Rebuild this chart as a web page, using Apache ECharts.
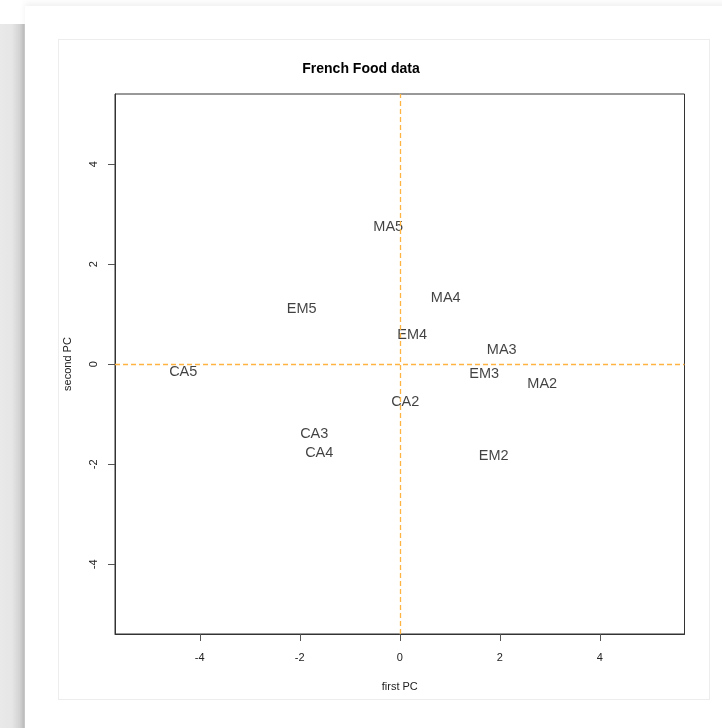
<!DOCTYPE html>
<html>
<head>
<meta charset="utf-8">
<script src="https://cdn.jsdelivr.net/npm/echarts@6/dist/echarts.min.js"></script>
<style>
html,body{margin:0;padding:0;width:722px;height:728px;overflow:hidden;background:#fff;}
#band{position:absolute;left:0;top:24px;width:25px;height:704px;
 background:linear-gradient(to right,#e9e9e9 0px,#e6e6e6 12px,#d2d2d2 20px,#bfbfbf 24px,#d8d8d8 25px);}
#card{position:absolute;left:25px;top:6px;width:720px;height:740px;background:#fff;
 box-shadow:0 -3px 6px rgba(0,0,0,0.06);}
#inner{position:absolute;left:58px;top:39px;width:652px;height:661px;border:1px solid #ededed;box-sizing:border-box;}
#chart{position:absolute;left:0;top:0;width:722px;height:728px;}
</style>
</head>
<body>
<div id="band"></div>
<div id="card"></div>
<div id="inner"></div>
<div id="chart"></div>
<script>
const names = ['CA2','CA3','CA4','CA5','EM2','EM3','EM4','EM5','MA2','MA3','MA4','MA5'];
const pc1 = [0.11, -1.71, -1.61, -4.33, 1.88, 1.69, 0.25, -1.96, 2.85, 2.04, 0.92, -0.23];
const pc2 = [-0.74, -1.37, -1.75, -0.13, -1.81, -0.18, 0.61, 1.12, -0.37, 0.31, 1.35, 2.77];
const xTicks = [-4, -2, 0, 2, 4];
const yTicks = [-4, -2, 0, 2, 4];
const titleText = 'French Food data';
const xName = 'first PC';
const yName = 'second PC';

const font = '"Liberation Sans", Arial, sans-serif';
const chart = echarts.init(document.getElementById('chart'), null, {renderer:'canvas'});
const data = names.map((n, i) => ({name: n, value: [pc1[i], pc2[i]]}));

chart.setOption({
  animation: false,
  backgroundColor: 'transparent',
  title: {
    text: titleText, left: 'center', top: 57,
    textStyle: {fontFamily: font, fontSize: 14, fontWeight: 'bold', color: '#000'}
  },
  grid: {left: 115, right: 37.5, top: 94, bottom: 94, show: true, borderColor: '#333', borderWidth: 1, backgroundColor: 'transparent'},
  xAxis: {
    type: 'value', min: -5.695, max: 5.695,
    splitLine: {show: false},
    axisLine: {show: true, onZero: false, lineStyle: {color: '#333'}},
    axisTick: {show: true, customValues: xTicks, length: 7, lineStyle: {color: '#555'}},
    axisLabel: {customValues: xTicks, fontFamily: font, fontSize: 11, color: '#222', margin: 18},
    name: xName, nameLocation: 'middle', nameGap: 47,
    nameTextStyle: {fontFamily: font, fontSize: 11, color: '#222'}
  },
  yAxis: {
    type: 'value', min: -5.394, max: 5.406,
    splitLine: {show: false},
    axisLine: {show: true, onZero: false, lineStyle: {color: '#333'}},
    axisTick: {show: true, customValues: yTicks, length: 7, lineStyle: {color: '#555'}},
    axisLabel: {customValues: yTicks, fontFamily: font, fontSize: 11, color: '#222', margin: 16, rotate: 90},
    name: yName, nameLocation: 'middle', nameGap: 42,
    nameTextStyle: {fontFamily: font, fontSize: 11, color: '#222'}
  },
  series: [{
    type: 'scatter',
    data: data,
    symbolSize: 1,
    itemStyle: {color: 'rgba(0,0,0,0)'},
    label: {
      show: true, position: 'inside', offset: [0, 1], formatter: p => p.name,
      fontFamily: font, fontSize: 14.5, color: '#111'
    },
    markLine: {
      silent: true, symbol: 'none', label: {show: false},
      lineStyle: {color: '#FFB340', type: [5, 3], width: 1.3},
      data: [{xAxis: 0}, {yAxis: 0}]
    }
  }]
});
</script>
</body>
</html>
